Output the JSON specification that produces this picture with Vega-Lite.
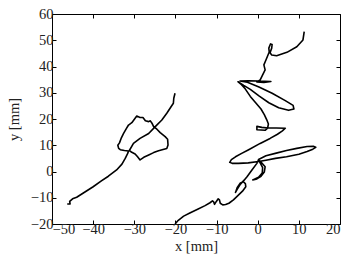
{
  "$schema": "https://vega.github.io/schema/vega-lite/v6.json",
  "width": 288,
  "height": 210,
  "autosize": {"type": "none"},
  "padding": {"left": 52, "top": 14, "right": 14, "bottom": 42},
  "config": {
    "view": {"stroke": "black", "strokeWidth": 1},
    "font": "Liberation Serif",
    "axis": {
      "grid": false,
      "domain": false,
      "tickColor": "black",
      "tickSize": -4,
      "tickWidth": 1,
      "labelFont": "Liberation Serif",
      "labelFontSize": 14.5,
      "labelColor": "#222",
      "titleFont": "Liberation Serif",
      "titleFontSize": 14.5,
      "titleFontWeight": "normal",
      "titleColor": "#222"
    }
  },
  "data": {
    "values": [
      {"s":"L","i":0,"x":-46.3,"y":-12.4},{"s":"L","i":1,"x":-45.6,"y":-12.4},{"s":"L","i":2,"x":-45.7,"y":-11.4},{"s":"L","i":3,"x":-45.0,"y":-10.4},{"s":"L","i":4,"x":-44.0,"y":-9.8},{"s":"L","i":5,"x":-42.0,"y":-7.8},{"s":"L","i":6,"x":-40.0,"y":-5.8},{"s":"L","i":7,"x":-38.0,"y":-3.6},{"s":"L","i":8,"x":-36.3,"y":-1.8},{"s":"L","i":9,"x":-34.3,"y":0.6},{"s":"L","i":10,"x":-33.0,"y":2.8},{"s":"L","i":11,"x":-32.2,"y":5.0},{"s":"L","i":12,"x":-31.6,"y":6.9},{"s":"L","i":13,"x":-31.4,"y":7.8},
      {"s":"L","i":14,"x":-32.4,"y":8.0},{"s":"L","i":15,"x":-33.4,"y":8.3},{"s":"L","i":16,"x":-33.8,"y":8.8},{"s":"L","i":17,"x":-34.0,"y":10.0},{"s":"L","i":18,"x":-33.6,"y":10.9},{"s":"L","i":19,"x":-33.2,"y":12.6},{"s":"L","i":20,"x":-32.6,"y":14.5},{"s":"L","i":21,"x":-31.9,"y":16.4},{"s":"L","i":22,"x":-31.4,"y":17.7},{"s":"L","i":23,"x":-30.6,"y":18.6},{"s":"L","i":24,"x":-29.8,"y":20.3},{"s":"L","i":25,"x":-29.4,"y":21.1},{"s":"L","i":26,"x":-28.6,"y":20.6},{"s":"L","i":27,"x":-27.9,"y":20.6},{"s":"L","i":28,"x":-27.3,"y":19.3},{"s":"L","i":29,"x":-26.5,"y":19.0},{"s":"L","i":30,"x":-26.1,"y":19.3},{"s":"L","i":31,"x":-25.7,"y":18.4},{"s":"L","i":32,"x":-25.3,"y":17.1},{"s":"L","i":33,"x":-24.5,"y":16.1},{"s":"L","i":34,"x":-23.7,"y":14.8},{"s":"L","i":35,"x":-22.5,"y":13.3},{"s":"L","i":36,"x":-21.9,"y":12.3},{"s":"L","i":37,"x":-21.8,"y":10.1},{"s":"L","i":38,"x":-22.1,"y":8.8},{"s":"L","i":39,"x":-23.0,"y":8.4},{"s":"L","i":40,"x":-24.1,"y":7.9},{"s":"L","i":41,"x":-25.3,"y":7.2},{"s":"L","i":42,"x":-26.5,"y":6.3},{"s":"L","i":43,"x":-27.7,"y":5.4},{"s":"L","i":44,"x":-28.6,"y":4.4},{"s":"L","i":45,"x":-29.2,"y":5.6},{"s":"L","i":46,"x":-29.8,"y":6.7},{"s":"L","i":47,"x":-30.6,"y":7.3},{"s":"L","i":48,"x":-31.2,"y":8.0},
      {"s":"L","i":49,"x":-30.2,"y":10.7},{"s":"L","i":50,"x":-28.6,"y":12.6},{"s":"L","i":51,"x":-26.5,"y":14.5},{"s":"L","i":52,"x":-24.9,"y":17.1},{"s":"L","i":53,"x":-23.3,"y":19.6},{"s":"L","i":54,"x":-22.1,"y":22.2},{"s":"L","i":55,"x":-21.3,"y":24.1},{"s":"L","i":56,"x":-20.5,"y":26.0},{"s":"L","i":57,"x":-20.4,"y":27.9},{"s":"L","i":58,"x":-20.1,"y":29.8},
      {"s":"R","i":0,"x":-20.1,"y":-20.0},{"s":"R","i":1,"x":-19.3,"y":-18.6},{"s":"R","i":2,"x":-18.0,"y":-17.0},{"s":"R","i":3,"x":-16.5,"y":-15.8},{"s":"R","i":4,"x":-14.6,"y":-14.4},{"s":"R","i":5,"x":-12.8,"y":-13.0},{"s":"R","i":6,"x":-11.6,"y":-11.9},{"s":"R","i":7,"x":-11.0,"y":-11.2},{"s":"R","i":8,"x":-10.7,"y":-11.6},{"s":"R","i":9,"x":-10.5,"y":-12.5},{"s":"R","i":10,"x":-10.1,"y":-11.5},{"s":"R","i":11,"x":-9.6,"y":-10.4},{"s":"R","i":12,"x":-9.3,"y":-10.8},{"s":"R","i":13,"x":-9.1,"y":-12.1},{"s":"R","i":14,"x":-8.5,"y":-12.7},{"s":"R","i":15,"x":-7.8,"y":-12.6},{"s":"R","i":16,"x":-7.0,"y":-12.1},{"s":"R","i":17,"x":-5.9,"y":-10.8},{"s":"R","i":18,"x":-4.7,"y":-9.0},{"s":"R","i":19,"x":-3.7,"y":-7.5},{"s":"R","i":20,"x":-2.9,"y":-5.8},{"s":"R","i":21,"x":-3.0,"y":-4.6},{"s":"R","i":22,"x":-3.5,"y":-3.9},{"s":"R","i":23,"x":-4.3,"y":-4.5},{"s":"R","i":24,"x":-5.0,"y":-6.2},{"s":"R","i":25,"x":-5.4,"y":-8.0},{"s":"R","i":26,"x":-5.0,"y":-6.8},{"s":"R","i":27,"x":-4.2,"y":-4.8},{"s":"R","i":28,"x":-3.3,"y":-3.3},{"s":"R","i":29,"x":-2.6,"y":-2.0},{"s":"R","i":30,"x":-1.4,"y":0.6},{"s":"R","i":31,"x":-0.2,"y":3.1},{"s":"R","i":32,"x":0.2,"y":4.4},
      {"s":"R","i":33,"x":0.9,"y":3.4},{"s":"R","i":34,"x":1.8,"y":1.8},{"s":"R","i":35,"x":1.6,"y":-0.2},{"s":"R","i":36,"x":0.8,"y":-1.8},{"s":"R","i":37,"x":-0.2,"y":-2.8},{"s":"R","i":38,"x":-1.2,"y":-3.2},{"s":"R","i":39,"x":0.2,"y":-2.2},{"s":"R","i":40,"x":1.1,"y":-0.6},{"s":"R","i":41,"x":1.2,"y":1.5},{"s":"R","i":42,"x":0.5,"y":3.6},{"s":"R","i":43,"x":0.2,"y":4.6},
      {"s":"R","i":44,"x":2.0,"y":6.0},{"s":"R","i":45,"x":4.5,"y":7.0},{"s":"R","i":46,"x":7.0,"y":8.0},{"s":"R","i":47,"x":9.5,"y":8.8},{"s":"R","i":48,"x":12.0,"y":9.5},{"s":"R","i":49,"x":13.5,"y":9.6},{"s":"R","i":50,"x":14.1,"y":9.2},
      {"s":"R","i":51,"x":13.4,"y":8.5},{"s":"R","i":52,"x":12.0,"y":7.6},{"s":"R","i":53,"x":10.0,"y":6.6},{"s":"R","i":54,"x":7.0,"y":5.6},{"s":"R","i":55,"x":4.3,"y":5.0},{"s":"R","i":56,"x":2.0,"y":4.3},{"s":"R","i":57,"x":0.2,"y":3.8},{"s":"R","i":58,"x":-2.3,"y":3.3},{"s":"R","i":59,"x":-4.7,"y":3.1},{"s":"R","i":60,"x":-6.2,"y":3.1},{"s":"R","i":61,"x":-6.8,"y":3.5},
      {"s":"R","i":62,"x":-6.4,"y":4.5},{"s":"R","i":63,"x":-5.4,"y":5.6},{"s":"R","i":64,"x":-3.9,"y":6.9},{"s":"R","i":65,"x":-2.2,"y":8.3},{"s":"R","i":66,"x":0.6,"y":10.7},{"s":"R","i":67,"x":3.0,"y":12.6},{"s":"R","i":68,"x":4.8,"y":14.2},{"s":"R","i":69,"x":6.0,"y":15.5},{"s":"R","i":70,"x":6.7,"y":16.5},
      {"s":"R","i":71,"x":4.5,"y":16.6},{"s":"R","i":72,"x":2.5,"y":16.6},{"s":"R","i":73,"x":1.0,"y":16.8},{"s":"R","i":74,"x":-0.2,"y":17.2},{"s":"R","i":75,"x":-0.2,"y":15.9},{"s":"R","i":76,"x":1.8,"y":15.7},{"s":"R","i":77,"x":2.4,"y":16.5},{"s":"R","i":78,"x":2.6,"y":18.1},
      {"s":"R","i":79,"x":2.2,"y":19.7},{"s":"R","i":80,"x":1.6,"y":21.7},{"s":"R","i":81,"x":0.8,"y":23.8},{"s":"R","i":82,"x":-0.5,"y":26.2},{"s":"R","i":83,"x":-1.8,"y":28.6},{"s":"R","i":84,"x":-3.0,"y":31.4},{"s":"R","i":85,"x":-4.1,"y":33.3},{"s":"R","i":86,"x":-4.8,"y":34.2},
      {"s":"R","i":87,"x":-3.4,"y":32.8},{"s":"R","i":88,"x":-1.8,"y":31.3},{"s":"R","i":89,"x":0.3,"y":28.8},{"s":"R","i":90,"x":2.7,"y":26.2},{"s":"R","i":91,"x":5.1,"y":24.3},{"s":"R","i":92,"x":7.5,"y":23.3},{"s":"R","i":93,"x":8.8,"y":23.8},{"s":"R","i":94,"x":8.6,"y":25.2},{"s":"R","i":95,"x":6.7,"y":27.0},{"s":"R","i":96,"x":3.5,"y":29.8},{"s":"R","i":97,"x":0.3,"y":32.2},{"s":"R","i":98,"x":-2.5,"y":34.0},{"s":"R","i":99,"x":-4.3,"y":34.5},
      {"s":"R","i":100,"x":-2.2,"y":34.6},{"s":"R","i":101,"x":0.2,"y":34.5},{"s":"R","i":102,"x":3.2,"y":34.3},{"s":"R","i":103,"x":1.5,"y":33.9},{"s":"R","i":104,"x":-0.2,"y":34.1},
      {"s":"R","i":105,"x":0.6,"y":34.9},{"s":"R","i":106,"x":1.2,"y":36.8},{"s":"R","i":107,"x":1.8,"y":38.7},{"s":"R","i":108,"x":1.5,"y":40.6},{"s":"R","i":109,"x":2.0,"y":42.5},{"s":"R","i":110,"x":2.4,"y":44.0},{"s":"R","i":111,"x":2.8,"y":45.5},{"s":"R","i":112,"x":2.7,"y":47.0},{"s":"R","i":113,"x":3.1,"y":48.6},{"s":"R","i":114,"x":3.5,"y":48.4},{"s":"R","i":115,"x":3.4,"y":47.0},{"s":"R","i":116,"x":3.0,"y":45.2},{"s":"R","i":117,"x":3.4,"y":44.4},{"s":"R","i":118,"x":4.6,"y":44.1},{"s":"R","i":119,"x":7.1,"y":45.4},{"s":"R","i":120,"x":9.5,"y":47.5},{"s":"R","i":121,"x":11.0,"y":50.1},{"s":"R","i":122,"x":11.3,"y":53.3}
    ]
  },
  "layer": [
    {
      "mark": {"type": "line", "color": "black", "strokeWidth": 1.6, "clip": true, "strokeJoin": "round"},
      "encoding": {
        "x": {"field": "x", "type": "quantitative",
              "scale": {"domain": [-50, 20], "nice": false, "zero": false},
              "axis": {"orient": "bottom", "title": "x [mm]", "values": [-50, -40, -30, -20, -10, 0, 10, 20], "labelPadding": 2, "titlePadding": 4}},
        "y": {"field": "y", "type": "quantitative",
              "scale": {"domain": [-20, 60], "nice": false, "zero": false},
              "axis": {"orient": "left", "title": "y [mm]", "values": [-20, -10, 0, 10, 20, 30, 40, 50, 60], "labelPadding": 3, "titlePadding": 9}},
        "detail": {"field": "s"},
        "order": {"field": "i", "type": "quantitative"}
      }
    },
    {
      "mark": {"type": "line", "opacity": 0},
      "encoding": {
        "x": {"field": "x", "type": "quantitative",
              "scale": {"domain": [-50, 20], "nice": false, "zero": false},
              "axis": {"orient": "top", "title": null, "labels": false, "values": [-50, -40, -30, -20, -10, 0, 10, 20]}},
        "y": {"field": "y", "type": "quantitative",
              "scale": {"domain": [-20, 60], "nice": false, "zero": false},
              "axis": {"orient": "right", "title": null, "labels": false, "values": [-20, -10, 0, 10, 20, 30, 40, 50, 60]}},
        "detail": {"field": "s"},
        "order": {"field": "i", "type": "quantitative"}
      }
    }
  ],
  "resolve": {"scale": {"x": "independent", "y": "independent"}, "axis": {"x": "independent", "y": "independent"}}
}
